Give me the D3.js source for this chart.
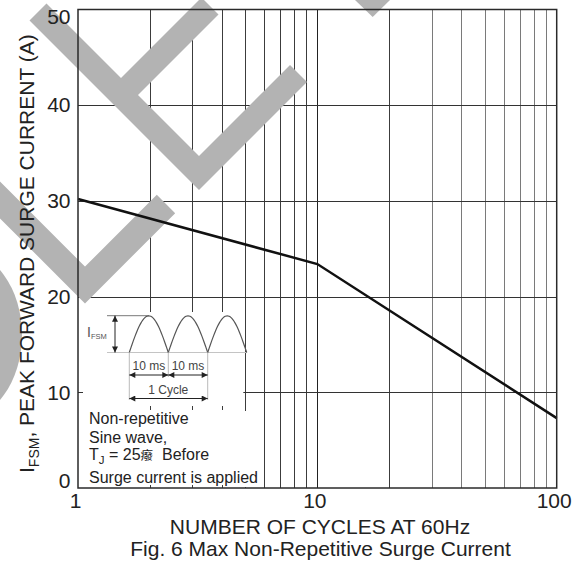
<!DOCTYPE html>
<html>
<head>
<meta charset="utf-8">
<script src="https://cdn.jsdelivr.net/npm/d3@7"></script>
<style>
html, body { margin: 0; padding: 0; background: #fff; }
svg { display: block; font-family: "Liberation Sans", Arial, "Noto Sans CJK SC", sans-serif; }
</style>
</head>
<body>
<div id="chart"></div>
<script>
// Data
const cycles = [1, 10, 100];
const surgeCurrent = [30.2, 23.4, 7.3];
const xTickValues = [1, 10, 100];
const yTickValues = [0, 10, 20, 30, 40, 50];
const minorCycles = [2, 3, 4, 5, 6, 7, 8, 9, 20, 30, 40, 50, 60, 70, 80, 90];
const gridCurrents = [10, 20, 30, 40];
const noteLines = ["Non-repetitive", "Sine wave,", "", "Surge current is applied"];

const W = 581, H = 567;
const plotL = 78, plotR = 556.7, plotT = 9.5, plotB = 488;
const ink = "#222";

const svg = d3.select("#chart").append("svg")
	.attr("width", W)
	.attr("height", H)
	.attr("viewBox", [0, 0, W, H]);

const x = d3.scaleLog().domain([1, 100]).range([plotL, plotR]);
const y = d3.scaleLinear().domain([0, 50]).range([plotB, plotT]);
const px = (v) => Math.round(v) + 0.5;

// Grid
const grid = svg.append("g").attr("stroke-width", 1);
grid.selectAll("line.minor")
	.data(minorCycles)
	.join("line")
	.attr("class", "minor")
	.attr("x1", (d) => px(x(d))).attr("x2", (d) => px(x(d)))
	.attr("y1", plotT).attr("y2", plotB)
	.attr("stroke", (d) => (d >= 30 ? "#7a7a7a" : "#3c3c3c"));
grid.append("line")
	.attr("x1", px(x(10))).attr("x2", px(x(10)))
	.attr("y1", plotT).attr("y2", plotB)
	.attr("stroke", "#222");
grid.selectAll("line.h")
	.data(gridCurrents)
	.join("line")
	.attr("class", "h")
	.attr("x1", plotL).attr("x2", plotR)
	.attr("y1", (d) => px(y(d))).attr("y2", (d) => px(y(d)))
	.attr("stroke", "#333");

// Watermark behind the text
const wm = svg.append("g")
	.attr("fill", "none")
	.attr("stroke", "#b3b3b3")
	.attr("stroke-linejoin", "miter")
	.attr("stroke-linecap", "butt");
wm.append("path").attr("d", "M38,12L199,173L298.5,73.5").attr("stroke-width", 24);
wm.append("path").attr("d", "M210,6L121,95").attr("stroke-width", 24);
wm.append("path").attr("d", "M-40,160L85,285L166,204").attr("stroke-width", 26);
svg.append("polygon").attr("points", "355,0 390,0 372.7,17").attr("fill", "#b3b3b3");
svg.append("ellipse").attr("cx", -40).attr("cy", 335).attr("rx", 62).attr("ry", 85).attr("fill", "#b3b3b3");

// White note box in the lower left
const x5 = x(5);
svg.append("rect").attr("x", plotL + 1.5).attr("y", 312).attr("width", x5 - 2 - plotL - 1.5).attr("height", plotB - 312 - 1).attr("fill", "#fff");
svg.append("rect").attr("x", x5 - 3).attr("y", 411).attr("width", 16).attr("height", plotB - 411 - 1).attr("fill", "#fff");

// Remaining grid stubs inside the box
svg.append("g").attr("stroke", "#3c3c3c")
	.selectAll("line")
	.data([2, 3, 4].flatMap((d) => [[d, 406, 410], [d, 485, plotB]]))
	.join("line")
	.attr("x1", (d) => px(x(d[0]))).attr("x2", (d) => px(x(d[0])))
	.attr("y1", (d) => d[1]).attr("y2", (d) => d[2]);
svg.append("line")
	.attr("x1", plotL).attr("x2", plotL + 5)
	.attr("y1", px(y(10))).attr("y2", px(y(10)))
	.attr("stroke", "#333");

// Waveform sketch
const defs = svg.append("defs");
defs.append("marker")
	.attr("id", "ah")
	.attr("viewBox", "0 0 10 10")
	.attr("refX", 10).attr("refY", 5)
	.attr("markerWidth", 7).attr("markerHeight", 6)
	.attr("markerUnits", "userSpaceOnUse")
	.attr("orient", "auto-start-reverse")
	.append("path").attr("d", "M0,0L10,5L0,10z").attr("fill", "#222");

const base = 352.5, peak = 315.7;
const arcX = [129.3, 168.3, 207.7, 246.7];
const sk = svg.append("g");
sk.append("line").attr("x1", 107).attr("x2", 247).attr("y1", base).attr("y2", base).attr("stroke", "#c4c4c4");
sk.append("line").attr("x1", 107).attr("x2", 149).attr("y1", peak).attr("y2", peak).attr("stroke", "#555").attr("stroke-width", 0.8);
const arch = d3.line().curve(d3.curveBasis);
for (let i = 0; i < 3; i++) {
	const a = arcX[i], b = arcX[i + 1];
	const pts = d3.range(0, 1.0001, 0.05).map((t) => [a + t * (b - a), base - (base - peak) * Math.sin(Math.PI * t)]);
	sk.append("path").attr("d", arch(pts)).attr("fill", "none").attr("stroke", "#555").attr("stroke-width", 1.2);
}
sk.append("line").attr("x1", arcX[0]).attr("x2", arcX[0]).attr("y1", base).attr("y2", 400).attr("stroke", "#bbb");
sk.append("line").attr("x1", arcX[1]).attr("x2", arcX[1]).attr("y1", base).attr("y2", 377).attr("stroke", "#bbb");
sk.append("line").attr("x1", arcX[2]).attr("x2", arcX[2]).attr("y1", base).attr("y2", 400).attr("stroke", "#bbb");

const dbl = (x1, y1, x2, y2) => sk.append("line")
	.attr("x1", x1).attr("y1", y1).attr("x2", x2).attr("y2", y2)
	.attr("stroke", "#222").attr("stroke-width", 1)
	.attr("marker-start", "url(#ah)").attr("marker-end", "url(#ah)");
dbl(115, peak, 115, base);
dbl(arcX[0], 375, arcX[1], 375);
dbl(arcX[1], 375, arcX[2], 375);
dbl(arcX[0], 398.5, arcX[2], 398.5);

sk.append("text").attr("x", 148.8).attr("y", 370).attr("text-anchor", "middle").attr("font-size", 12).attr("fill", "#444").text("10 ms");
sk.append("text").attr("x", 188).attr("y", 370).attr("text-anchor", "middle").attr("font-size", 12).attr("fill", "#444").text("10 ms");
sk.append("text").attr("x", 168.3).attr("y", 393.5).attr("text-anchor", "middle").attr("font-size", 12).attr("fill", "#444").text("1 Cycle");
const ifsm = sk.append("text").attr("x", 87).attr("y", 337).attr("font-size", 14).attr("fill", "#555");
ifsm.append("tspan").text("I");
ifsm.append("tspan").attr("font-size", 7.5).attr("dy", 2).text("FSM");

// Note text
const noteY = [424, 442.5, 460, 482.5];
const notes = svg.append("g").attr("font-size", 16).attr("fill", ink);
notes.selectAll("text.n")
	.data(noteLines.filter((d) => d))
	.join("text")
	.attr("class", "n")
	.attr("x", 89)
	.attr("y", (d) => noteY[noteLines.indexOf(d)])
	.text((d) => d);
const tj = notes.append("text").attr("x", 89).attr("y", noteY[2]).style("white-space", "pre");
tj.append("tspan").text("T");
tj.append("tspan").attr("font-size", 11.5).attr("dy", 4).text("J");
tj.append("tspan").attr("dy", -4).text(" = 25");
tj.append("tspan").attr("font-size", 12.5).text("癈");
tj.append("tspan").text("  Before");

// Surge curve
const curvePts = cycles.map((c, i) => ({ c, v: surgeCurrent[i] }));
svg.append("path")
	.datum(curvePts)
	.attr("d", d3.line().x((d) => x(d.c)).y((d) => y(d.v)))
	.attr("fill", "none")
	.attr("stroke", "#111")
	.attr("stroke-width", 2.5);

// Frame
svg.append("rect")
	.attr("x", plotL).attr("y", plotT)
	.attr("width", plotR - plotL).attr("height", plotB - plotT)
	.attr("fill", "none").attr("stroke", "#2a2a2a").attr("stroke-width", 1.5);

// Axes
const yAxis = svg.append("g")
	.attr("transform", `translate(${plotL},0)`)
	.call(d3.axisLeft(y).tickValues(yTickValues).tickSize(0).tickPadding(7.5));
yAxis.select(".domain").remove();
yAxis.selectAll("text")
	.attr("font-size", 21)
	.attr("font-family", "Liberation Sans, Arial, sans-serif")
	.attr("fill", ink)
	.attr("y", (d) => (d === 50 ? 7.5 : d === 0 ? -7 : 0));

const xAxis = svg.append("g")
	.attr("transform", `translate(0,${plotB})`)
	.call(d3.axisBottom(x).tickValues(xTickValues).tickFormat(d3.format("d")).tickSize(0).tickPadding(5));
xAxis.select(".domain").remove();
xAxis.selectAll("text")
	.attr("font-size", 21)
	.attr("font-family", "Liberation Sans, Arial, sans-serif")
	.attr("fill", ink)
	.attr("x", -3);

// Titles
const yt = svg.append("text")
	.attr("transform", "translate(33.5,473) rotate(-90)")
	.attr("font-size", 21)
	.attr("fill", ink);
yt.append("tspan").text("I");
yt.append("tspan").attr("font-size", 14).attr("dy", 5).text("FSM");
yt.append("tspan").attr("dy", -5).text(", PEAK FORWARD SURGE CURRENT (A)");

svg.append("text")
	.attr("x", 320).attr("y", 534)
	.attr("text-anchor", "middle")
	.attr("font-size", 21)
	.attr("fill", ink)
	.text("NUMBER OF CYCLES AT 60Hz");

svg.append("text")
	.attr("x", 320.5).attr("y", 556)
	.attr("text-anchor", "middle")
	.attr("font-size", 21)
	.attr("fill", ink)
	.text("Fig. 6 Max Non-Repetitive Surge Current");
</script>
</body>
</html>
